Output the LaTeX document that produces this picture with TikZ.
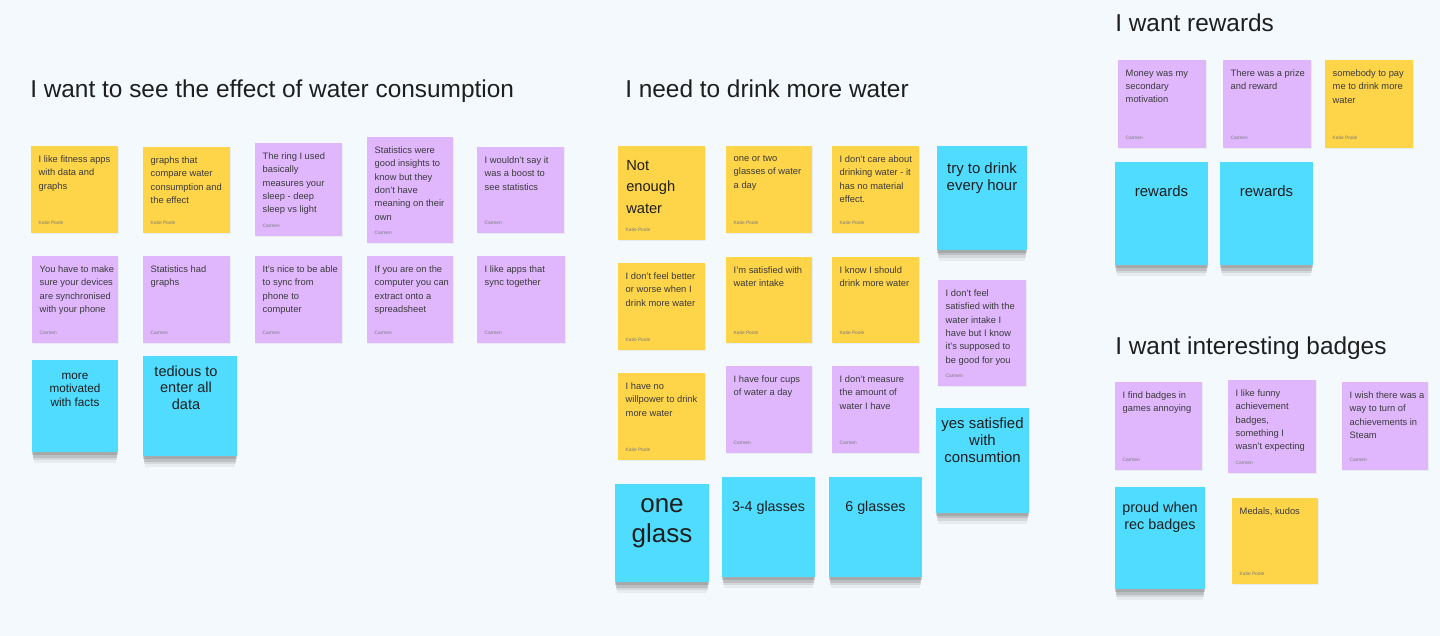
\documentclass[tikz,border=0pt]{standalone}
\usepackage{fontspec}
\setmainfont{Liberation Sans}
\usetikzlibrary{positioning}
\usetikzlibrary{shadows}

\definecolor{canvas}{HTML}{F3F9FD}
\definecolor{stickyyellow}{HTML}{FED449}
\definecolor{stickypurple}{HTML}{E0B7FD}
\definecolor{stickyblue}{HTML}{50DCFF}
\definecolor{ink}{HTML}{1E1E1E}
\definecolor{inkgray}{HTML}{3A3A3A}
\definecolor{authorgray}{HTML}{7A7A7A}

\begin{document}
\begin{tikzpicture}[x=0.75pt, y=-0.75pt,
    note/.style={anchor=north west, inner sep=0pt, outer sep=0pt},
    wh/.style 2 args={minimum width=#1*0.75pt, minimum height=#2*0.75pt},
    flat/.style={drop shadow={shadow xshift=0.4pt, shadow yshift=-0.8pt, opacity=0.10}},
    lifted/.style={
        drop shadow={shadow xshift=0pt, shadow yshift=-2.5pt, shadow scale=0.99, opacity=0.35},
        drop shadow={shadow xshift=0pt, shadow yshift=-5pt, shadow scale=0.98, opacity=0.28},
        drop shadow={shadow xshift=0pt, shadow yshift=-7.5pt, shadow scale=0.97, opacity=0.18},
        drop shadow={shadow xshift=0pt, shadow yshift=-10pt, shadow scale=0.96, opacity=0.10}},
    yellownote/.style={note, fill=stickyyellow, flat},
    purplenote/.style={note, fill=stickypurple, flat},
    bluenote/.style={note, fill=stickyblue, lifted},
    notetext/.style={inner sep=0pt, align=left, text=inkgray, font=\fontsize{7}{10}\selectfont},
    author/.style={inner sep=0pt, text=authorgray, font=\fontsize{3.6}{4}\selectfont},
    bluetext/.style={inner sep=0pt, align=center, text=ink},
    heading/.style={anchor=base west, inner sep=0pt, text=ink, font=\fontsize{18.3}{22}\selectfont},
]
    \useasboundingbox (0,0) rectangle (1440,636);
    \fill[canvas] (0,0) rectangle (1440,636);

    % headings
    \node[heading] (h1) at (30,97) {I want to see the effect of water consumption};
    \node[heading] (h2) at (625,97) {I need to drink more water};
    \node[heading] (h3) at (1115,31.5) {I want rewards};
    \node[heading] (h4) at (1115,354.5) {I want interesting badges};

    % effect of water consumption
    \node[yellownote, wh={87}{87}] (n1) at (31,146) {};
    \node[notetext, below right=7pt and 5.6pt of n1.north west] (n1t) {I like fitness apps\\with data and\\graphs};
    \node[author, above right=6pt and 5.6pt of n1.south west] (n1a) {Katie Poole};

    \node[yellownote, wh={87}{86}] (n2) at (143,147) {};
    \node[notetext, below right=7pt and 5.6pt of n2.north west] (n2t) {graphs that\\compare water\\consumption and\\the effect};
    \node[author, above right=6pt and 5.6pt of n2.south west] (n2a) {Katie Poole};

    \node[purplenote, wh={87}{93}] (n3) at (255,143) {};
    \node[notetext, below right=7pt and 5.6pt of n3.north west] (n3t) {The ring I used\\basically\\measures your\\sleep - deep\\sleep vs light};
    \node[author, above right=6pt and 5.6pt of n3.south west] (n3a) {Carmen};

    \node[purplenote, wh={86}{106}] (n4) at (367,137) {};
    \node[notetext, below right=7pt and 5.6pt of n4.north west] (n4t) {Statistics were\\good insights to\\know but they\\don't have\\meaning on their\\own};
    \node[author, above right=6pt and 5.6pt of n4.south west] (n4a) {Carmen};

    \node[purplenote, wh={87}{86}] (n5) at (477,147) {};
    \node[notetext, below right=7pt and 5.6pt of n5.north west] (n5t) {I wouldn't say it\\was a boost to\\see statistics};
    \node[author, above right=6pt and 5.6pt of n5.south west] (n5a) {Carmen};

    \node[purplenote, wh={86}{87}] (n6) at (32,256) {};
    \node[notetext, below right=7pt and 5.6pt of n6.north west] (n6t) {You have to make\\sure your devices\\are synchronised\\with your phone};
    \node[author, above right=6pt and 5.6pt of n6.south west] (n6a) {Carmen};

    \node[purplenote, wh={87}{87}] (n7) at (143,256) {};
    \node[notetext, below right=7pt and 5.6pt of n7.north west] (n7t) {Statistics had\\graphs};
    \node[author, above right=6pt and 5.6pt of n7.south west] (n7a) {Carmen};

    \node[purplenote, wh={87}{87}] (n8) at (255,256) {};
    \node[notetext, below right=7pt and 5.6pt of n8.north west] (n8t) {It's nice to be able\\to sync from\\phone to\\computer};
    \node[author, above right=6pt and 5.6pt of n8.south west] (n8a) {Carmen};

    \node[purplenote, wh={86}{87}] (n9) at (367,256) {};
    \node[notetext, below right=7pt and 5.6pt of n9.north west] (n9t) {If you are on the\\computer you can\\extract onto a\\spreadsheet};
    \node[author, above right=6pt and 5.6pt of n9.south west] (n9a) {Carmen};

    \node[purplenote, wh={88}{87}] (n10) at (477,256) {};
    \node[notetext, below right=7pt and 5.6pt of n10.north west] (n10t) {I like apps that\\sync together};
    \node[author, above right=6pt and 5.6pt of n10.south west] (n10a) {Carmen};

    \node[bluenote, wh={86}{92}] (b1) at (32,360) {};
    \node[bluetext, font=\fontsize{8.8}{10}\selectfont, below=9.7pt of b1.north] (b1t) {more\\motivated\\with facts};

    \node[bluenote, wh={94}{100}] (b2) at (143,356) {};
    \node[bluetext, font=\fontsize{10.9}{12.4}\selectfont, below=6.9pt of b2.north, xshift=-3pt] (b2t) {tedious to\\enter all\\data};

    % drink more water
    \node[yellownote, wh={87}{94}] (m1) at (618,146) {};
    \node[notetext, font=\fontsize{11}{16.3}\selectfont, text=ink, below right=10.4pt and 6pt of m1.north west] (m1t) {Not\\enough\\water};
    \node[author, above right=6pt and 5.6pt of m1.south west] (m1a) {Katie Poole};

    \node[yellownote, wh={86}{87}] (m2) at (726,146) {};
    \node[notetext, below right=7pt and 5.6pt of m2.north west] (m2t) {one or two\\glasses of water\\a day};
    \node[author, above right=6pt and 5.6pt of m2.south west] (m2a) {Katie Poole};

    \node[yellownote, wh={87}{87}] (m3) at (832,146) {};
    \node[notetext, below right=7pt and 5.6pt of m3.north west] (m3t) {I don't care about\\drinking water - it\\has no material\\effect.};
    \node[author, above right=6pt and 5.6pt of m3.south west] (m3a) {Katie Poole};

    \node[bluenote, wh={90}{104}] (b3) at (937,146) {};
    \node[bluetext, font=\fontsize{11.2}{12.75}\selectfont, below=12pt of b3.north] (b3t) {try to drink\\every hour};

    \node[yellownote, wh={87}{87}] (m4) at (618,263) {};
    \node[notetext, below right=7pt and 5.6pt of m4.north west] (m4t) {I don't feel better\\or worse when I\\drink more water};
    \node[author, above right=6pt and 5.6pt of m4.south west] (m4a) {Katie Poole};

    \node[yellownote, wh={86}{86}] (m5) at (726,257) {};
    \node[notetext, below right=7pt and 5.6pt of m5.north west] (m5t) {I'm satisfied with\\water intake};
    \node[author, above right=6pt and 5.6pt of m5.south west] (m5a) {Katie Poole};

    \node[yellownote, wh={87}{86}] (m6) at (832,257) {};
    \node[notetext, below right=7pt and 5.6pt of m6.north west] (m6t) {I know I should\\drink more water};
    \node[author, above right=6pt and 5.6pt of m6.south west] (m6a) {Katie Poole};

    \node[purplenote, wh={88}{106}] (m7) at (938,280) {};
    \node[notetext, below right=7pt and 5.6pt of m7.north west] (m7t) {I don't feel\\satisfied with the\\water intake I\\have but I know\\it's supposed to\\be good for you};
    \node[author, above right=6pt and 5.6pt of m7.south west] (m7a) {Carmen};

    \node[yellownote, wh={87}{87}] (m8) at (618,373) {};
    \node[notetext, below right=7pt and 5.6pt of m8.north west] (m8t) {I have no\\willpower to drink\\more water};
    \node[author, above right=6pt and 5.6pt of m8.south west] (m8a) {Katie Poole};

    \node[purplenote, wh={86}{87}] (m9) at (726,366) {};
    \node[notetext, below right=7pt and 5.6pt of m9.north west] (m9t) {I have four cups\\of water a day};
    \node[author, above right=6pt and 5.6pt of m9.south west] (m9a) {Carmen};

    \node[purplenote, wh={87}{87}] (m10) at (832,366) {};
    \node[notetext, below right=7pt and 5.6pt of m10.north west] (m10t) {I don't measure\\the amount of\\water I have};
    \node[author, above right=6pt and 5.6pt of m10.south west] (m10a) {Carmen};

    \node[bluenote, wh={93}{105}] (b4) at (936,408) {};
    \node[bluetext, font=\fontsize{11.2}{12.75}\selectfont, below=6.8pt of b4.north] (b4t) {yes satisfied\\with\\consumtion};

    \node[bluenote, wh={94}{98}] (b5) at (615,484) {};
    \node[bluetext, font=\fontsize{19.5}{22.5}\selectfont, below=10.5pt of b5.north] (b5t) {one\\glass};

    \node[bluenote, wh={93}{100}] (b6) at (722,477) {};
    \node[bluetext, font=\fontsize{10.7}{12.75}\selectfont, below=17.7pt of b6.north] (b6t) {3-4 glasses};

    \node[bluenote, wh={93}{100}] (b7) at (829,477) {};
    \node[bluetext, font=\fontsize{10.7}{12.75}\selectfont, below=17.7pt of b7.north] (b7t) {6 glasses};

    % rewards
    \node[purplenote, wh={88}{88}] (r1) at (1118,60) {};
    \node[notetext, below right=7pt and 5.6pt of r1.north west] (r1t) {Money was my\\secondary\\motivation};
    \node[author, above right=6pt and 5.6pt of r1.south west] (r1a) {Carmen};

    \node[purplenote, wh={88}{88}] (r2) at (1223,60) {};
    \node[notetext, below right=7pt and 5.6pt of r2.north west] (r2t) {There was a prize\\and reward};
    \node[author, above right=6pt and 5.6pt of r2.south west] (r2a) {Carmen};

    \node[yellownote, wh={88}{88}] (r3) at (1325,60) {};
    \node[notetext, below right=7pt and 5.6pt of r3.north west] (r3t) {somebody to pay\\me to drink more\\water};
    \node[author, above right=6pt and 5.6pt of r3.south west] (r3a) {Katie Poole};

    \node[bluenote, wh={93}{103}] (b8) at (1115,162) {};
    \node[bluetext, font=\fontsize{11.2}{12.75}\selectfont, below=17.7pt of b8.north] (b8t) {rewards};

    \node[bluenote, wh={93}{103}] (b9) at (1220,162) {};
    \node[bluetext, font=\fontsize{11.2}{12.75}\selectfont, below=17.7pt of b9.north] (b9t) {rewards};

    % badges
    \node[purplenote, wh={87}{88}] (r4) at (1115,382) {};
    \node[notetext, below right=7pt and 5.6pt of r4.north west] (r4t) {I find badges in\\games annoying};
    \node[author, above right=6pt and 5.6pt of r4.south west] (r4a) {Carmen};

    \node[purplenote, wh={88}{93}] (r5) at (1228,380) {};
    \node[notetext, below right=7pt and 5.6pt of r5.north west] (r5t) {I like funny\\achievement\\badges,\\something I\\wasn't expecting};
    \node[author, above right=6pt and 5.6pt of r5.south west] (r5a) {Carmen};

    \node[purplenote, wh={86}{88}] (r6) at (1342,382) {};
    \node[notetext, below right=7pt and 5.6pt of r6.north west] (r6t) {I wish there was a\\way to turn of\\achievements in\\Steam};
    \node[author, above right=6pt and 5.6pt of r6.south west] (r6a) {Carmen};

    \node[bluenote, wh={90}{102}] (b10) at (1115,487) {};
    \node[bluetext, font=\fontsize{10.8}{12.75}\selectfont, below=11.4pt of b10.north] (b10t) {proud when\\rec badges};

    \node[yellownote, wh={86}{86}] (r7) at (1232,498) {};
    \node[notetext, below right=7pt and 5.6pt of r7.north west] (r7t) {Medals, kudos};
    \node[author, above right=6pt and 5.6pt of r7.south west] (r7a) {Katie Poole};
\end{tikzpicture}
\end{document}
